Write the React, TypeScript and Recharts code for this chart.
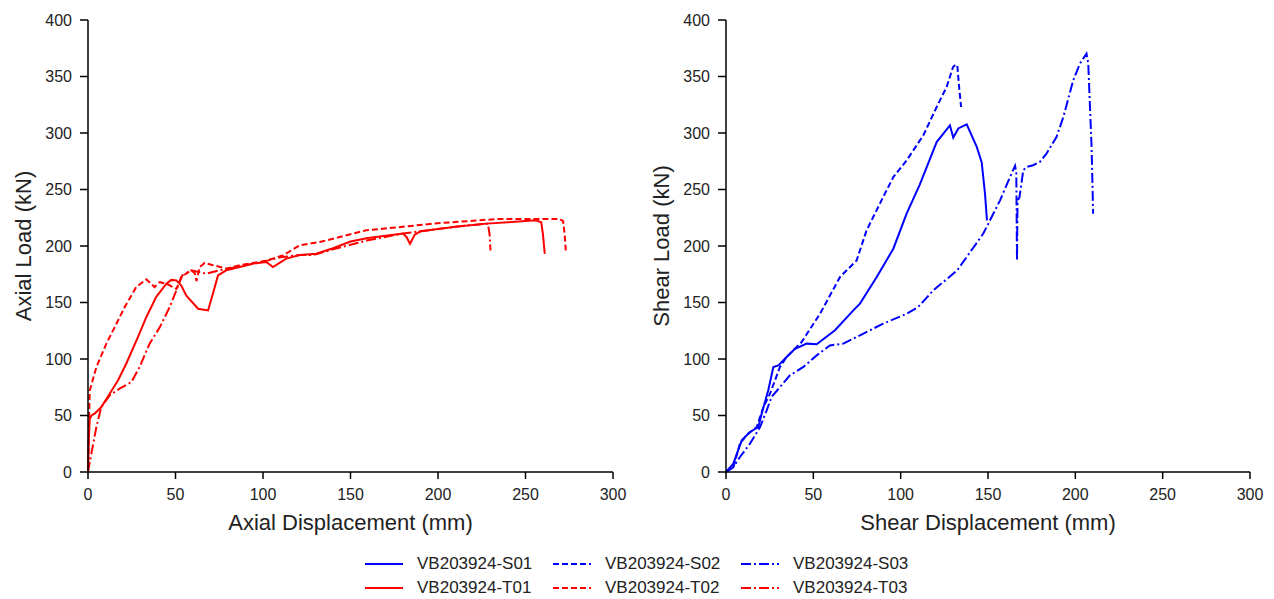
import React from 'react'
import { LineChart, Line, XAxis, YAxis } from 'recharts'

type Pt = { x: number; y: number }
const toPts = (arr: number[][]): Pt[] => arr.map(([x, y]) => ({ x, y }))

const xTicks = [0, 50, 100, 150, 200, 250, 300]
const yTicks = [0, 50, 100, 150, 200, 250, 300, 350, 400]

// axial tests (displacement mm, load kN)
const t01 = [
  [0, 0], [0.5, 30], [1, 47], [2, 50], [3.8, 51.6], [7.6, 57.5], [12.4, 69.3], [17.1, 81], [21.9, 96],
  [28.6, 119.5], [33.3, 137], [39, 155], [44.8, 166.7], [47.6, 170], [50.5, 169.6], [53.3, 165], [56.2, 156],
  [62.9, 144.5], [68.6, 143], [71.4, 158], [74.3, 174], [79, 178.5], [86.7, 181.4], [94.3, 184.4],
  [101.9, 185.8], [105.7, 181.4], [113.3, 188.8], [121, 192], [130.5, 193.2], [140, 198], [150, 204],
  [160, 207], [170, 209], [180, 211], [182, 208], [184, 202], [186.7, 210], [190, 213], [200, 215],
  [210, 217], [227.7, 219.8], [240, 221], [256, 222.7], [259, 221], [260, 210], [261, 193],
]
const t02 = [
  [0, 0], [0.5, 40], [1, 72], [4.8, 93], [10.5, 113.6], [15.2, 128], [21, 146], [27.6, 163.7], [33.3, 170.5],
  [38, 163.7], [41, 168], [44.8, 166.7], [50.5, 162], [53.3, 172.6], [59, 178.5], [61, 176], [62, 169],
  [63.8, 181.4], [66.7, 185], [71.4, 183], [79, 180], [86.7, 183], [101.9, 187], [111.4, 191.7],
  [121, 200.6], [132.4, 203.5], [159, 213.9], [180, 217], [197, 219.8], [235, 224], [269.5, 224],
  [271.5, 222], [272.4, 210], [273, 196],
]
const t03 = [
  [0, 0], [1.9, 16], [4.8, 40], [7.6, 57.5], [12.4, 67.8], [18, 73.7], [24.8, 79.6], [29.5, 93],
  [35.2, 113.6], [41, 128], [46.7, 146], [50.5, 160.8], [53.9, 174], [59, 178.5], [67.6, 175.5],
  [75.2, 178.5], [86.7, 182], [100, 186], [110, 190], [121, 192], [128.6, 192], [140, 197], [160, 205],
  [180, 211], [200, 215], [215, 218], [228.5, 219.8], [229.5, 210], [230, 196],
]

// shear tests
const s01 = [
  [0, 0], [4.2, 7.4], [9, 28], [13.7, 35.4], [18.5, 39.8], [20.4, 51.6], [24.2, 72.3], [27.1, 92.9],
  [30, 94.4], [34.7, 101.8], [39.5, 109], [46.2, 113.6], [51.9, 113], [62.4, 125.4], [72.9, 143],
  [76.7, 149], [86.3, 172.6], [95.8, 197.6], [103.4, 228.6], [111, 254.6], [120.6, 292], [128.2, 306.8],
  [130.1, 296], [133, 304], [137.8, 307.7], [143.5, 288], [146.4, 274], [148.3, 246], [149.4, 222.7],
]
const s02 = [
  [0, 0], [4.2, 4.4], [8, 25], [12, 33], [17.6, 39.8], [21.4, 57.5], [25.2, 69.3], [30.9, 92.9],
  [34.7, 101.8], [43.3, 115], [53.8, 140], [65.3, 172.6], [74.8, 187.3], [80.5, 213.9], [90, 243.4],
  [95.8, 261], [103.4, 275.8], [113, 298], [120.6, 323], [126.3, 340.7], [130, 358.4], [131.5, 360.5],
  [132.4, 360], [133.5, 340], [134.6, 323],
]
const s03 = [
  [0, 0], [4, 4], [8, 13.3], [13.7, 25], [19.5, 39.8], [23.3, 54.6], [26.1, 66.4], [30.9, 75.2],
  [36.6, 85.5], [44.3, 93], [51.9, 103.2], [59.5, 112], [67.2, 113.6], [76.7, 121], [90, 131.3],
  [103.4, 140], [110, 146], [118.7, 160.8], [132.4, 178.5], [147.3, 211], [156.9, 240.4], [162.6, 261],
  [165.5, 271], [166.2, 265], [166.6, 187], [166.9, 240], [168, 243], [170.2, 267], [172, 270],
  [175.9, 271.5], [179.7, 274.4], [183.5, 281.8], [189.2, 296.5], [193.1, 314], [198.8, 346.6],
  [202.6, 361.4], [206.4, 370.2], [207.4, 361.4], [209.3, 287.6], [210.2, 228.6],
]

const BLUE = '#0000ff'
const RED = '#ff0000'
const SOLID = undefined
const DASH = '6 3'
const DASHDOT = '10 3 2 3'
const FONT = '"Liberation Sans", Arial, sans-serif'

const axialSeries = [
  { name: 'VB203924-T01', data: t01, dash: SOLID },
  { name: 'VB203924-T02', data: t02, dash: DASH },
  { name: 'VB203924-T03', data: t03, dash: DASHDOT },
]
const shearSeries = [
  { name: 'VB203924-S01', data: s01, dash: SOLID },
  { name: 'VB203924-S02', data: s02, dash: DASH },
  { name: 'VB203924-S03', data: s03, dash: DASHDOT },
]

function Panel({ series, color, xLabel, yLabel, width }: {
  series: { name: string; data: number[][]; dash?: string }[]
  color: string
  xLabel: string
  yLabel: string
  width: number
}) {
  const tick = { fontSize: 16, fill: '#222', fontFamily: FONT }
  const axisLine = { stroke: '#000', strokeWidth: 1.5 }
  return (
    <LineChart width={width} height={534} margin={{ top: 12, right: 20, bottom: 0, left: 0 }}>
      <XAxis
        type="number"
        dataKey="x"
        domain={[0, 300]}
        ticks={xTicks}
        height={70}
        tickSize={7}
        tickMargin={10}
        tick={tick}
        axisLine={axisLine}
        tickLine={axisLine}
        label={{ value: xLabel, position: 'insideBottom', offset: 12, fontSize: 22, fill: '#222', fontFamily: FONT }}
      />
      <YAxis
        type="number"
        domain={[0, 400]}
        ticks={yTicks}
        width={80}
        tickSize={8}
        tickMargin={8}
        tick={tick}
        axisLine={axisLine}
        tickLine={axisLine}
        label={{ value: yLabel, angle: -90, position: 'insideLeft', offset: 15, fontSize: 22, fill: '#222', fontFamily: FONT, style: { textAnchor: 'middle' } }}
      />
      {series.map((s) => (
        <Line
          key={s.name}
          data={toPts(s.data)}
          dataKey="y"
          name={s.name}
          type="linear"
          stroke={color}
          strokeWidth={2}
          strokeDasharray={s.dash}
          dot={false}
          activeDot={false}
          isAnimationActive={false}
        />
      ))}
    </LineChart>
  )
}

const legendItems = [
  { name: 'VB203924-S01', color: BLUE, dash: SOLID },
  { name: 'VB203924-S02', color: BLUE, dash: DASH },
  { name: 'VB203924-S03', color: BLUE, dash: DASHDOT },
  { name: 'VB203924-T01', color: RED, dash: SOLID },
  { name: 'VB203924-T02', color: RED, dash: DASH },
  { name: 'VB203924-T03', color: RED, dash: DASHDOT },
]

export default function App() {
  return (
    <div style={{ position: 'relative', width: 1258, height: 591, fontFamily: FONT }}>
      <div style={{ position: 'absolute', left: 0, top: 0 }}>
        <Panel series={axialSeries} color={RED} xLabel="Axial Displacement (mm)" yLabel="Axial Load (kN)" width={625} />
      </div>
      <div style={{ position: 'absolute', left: 638, top: 0 }}>
        <Panel series={shearSeries} color={BLUE} xLabel="Shear Displacement (mm)" yLabel="Shear Load (kN)" width={624} />
      </div>
      <div
        style={{
          position: 'absolute',
          left: 357,
          top: 544,
          display: 'grid',
          gridTemplateColumns: 'repeat(3, 188px)',
          gridAutoRows: '24px',
        }}
      >
        {legendItems.map((it) => (
          <div key={it.name} style={{ display: 'flex', alignItems: 'center' }}>
            <svg width={38} height={10} style={{ marginRight: 14 }}>
              <line x1={0} y1={5} x2={38} y2={5} stroke={it.color} strokeWidth={2} strokeDasharray={it.dash} />
            </svg>
            <span style={{ fontSize: 17, color: '#222', lineHeight: '24px' }}>{it.name}</span>
          </div>
        ))}
      </div>
    </div>
  )
}
